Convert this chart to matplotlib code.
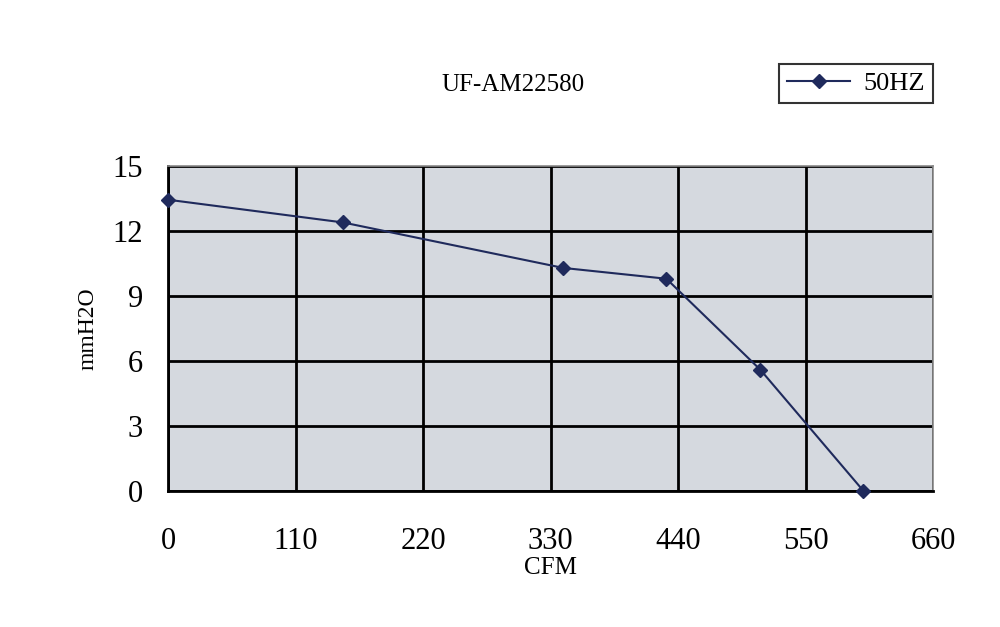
import matplotlib.pyplot as plt

# Dados (curva do ventilador a 50 Hz)
cfm = [0, 151, 341, 430, 511, 600]
pressao = [13.45, 12.4, 10.3, 9.8, 5.6, 0]
xticks = [0, 110, 220, 330, 440, 550, 660]
yticks = [0, 3, 6, 9, 12, 15]

cor_linha = '#1f2a5c'
fonte = 'Liberation Serif'

fig = plt.figure(figsize=(10, 6.27), dpi=100)
ax = fig.add_axes([0.168, 0.217, 0.765, 0.518])
ax.set_facecolor('#d5d9df')

ax.plot(cfm, pressao, color=cor_linha, lw=1.5, marker='D', ms=7,
        label='50HZ', clip_on=False, zorder=3)

ax.set_xlim(0, 660)
ax.set_ylim(0, 15)
ax.set_xticks(xticks)
ax.set_yticks(yticks)
ax.grid(True, color='black', lw=2)
ax.tick_params(length=0, labelsize=22)
ax.tick_params(axis='x', pad=26)
ax.tick_params(axis='y', pad=18)
for lbl in ax.get_xticklabels() + ax.get_yticklabels():
    lbl.set_fontfamily(fonte)

for lado in ['top', 'right']:
    ax.spines[lado].set_color('#8a8a8a')
    ax.spines[lado].set_linewidth(1.2)
for lado in ['left', 'bottom']:
    ax.spines[lado].set_color('black')
    ax.spines[lado].set_linewidth(2)

ax.set_xlabel('CFM', fontsize=18, family=fonte, labelpad=1)
ax.set_ylabel('mmH2O', fontsize=17, family=fonte, labelpad=10)

fig.text(0.513, 0.865, 'UF-AM22580', fontsize=18, family=fonte,
         ha='center', va='center')

leg = ax.legend(loc='center', bbox_to_anchor=(0.856, 0.8665),
                bbox_transform=fig.transFigure, frameon=True,
                fancybox=False, edgecolor='black',
                prop={'family': fonte, 'size': 19}, handlelength=2.4,
                handletextpad=0.5, borderpad=0.3)
leg.get_frame().set_linewidth(1.5)

fig.savefig('out.png', facecolor='white')
plt.close()
